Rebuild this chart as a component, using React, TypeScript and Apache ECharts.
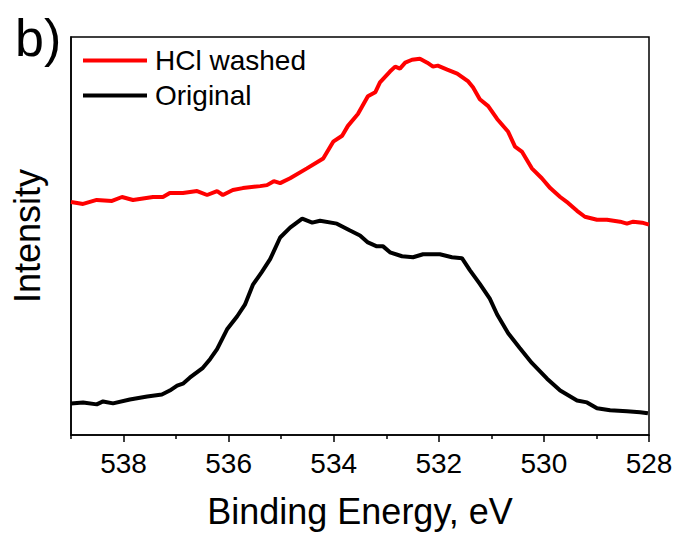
import React, { useEffect, useRef } from "react";
import * as echarts from "echarts";

const FONT = '"Liberation Sans", Arial, Helvetica, sans-serif';

const seriesNames = ["HCl washed", "Original"];
const seriesColors = ["#ff0000", "#000000"];

const washedEnergy = [
  539.0, 538.77, 538.51, 538.22, 538.03, 537.82, 537.44, 537.25, 537.12, 536.87,
  536.6, 536.41, 536.22, 536.11, 535.92, 535.73, 535.4, 535.27, 535.14, 535.02,
  534.83, 534.51, 534.2, 534.01, 533.84, 533.73, 533.54, 533.35, 533.21, 533.12,
  532.93, 532.83, 532.74, 532.64, 532.51, 532.36, 532.22, 532.11, 532.02, 531.84,
  531.65, 531.44, 531.35, 531.22, 531.06, 530.89, 530.68, 530.55, 530.42, 530.23,
  530.04, 529.88, 529.69, 529.54, 529.37, 529.22, 528.99, 528.8, 528.55, 528.42,
  528.3, 528.13, 528.0,
];
const washedIntensity = [
  236, 234, 238, 237, 241, 238, 241, 241, 245, 245,
  247, 243, 247, 243, 248, 250, 252, 253, 257, 255,
  260, 270, 280, 297, 303, 313, 325, 343, 347, 357,
  368, 373, 371, 377, 380, 381, 377, 373, 374, 370,
  366, 358, 352, 340, 333, 320, 307, 292, 287, 270,
  260, 250, 241, 235, 227, 221, 218, 218, 216, 214,
  216, 215, 213,
];

const originalEnergy = [
  539.0, 538.77, 538.51, 538.39, 538.2, 537.88, 537.55, 537.27, 537.12, 536.98,
  536.87, 536.74, 536.49, 536.35, 536.22, 536.03, 535.84, 535.69, 535.54, 535.37,
  535.21, 535.02, 534.83, 534.6, 534.41, 534.26, 533.94, 533.69, 533.5, 533.35,
  533.18, 533.06, 532.93, 532.7, 532.49, 532.3, 531.98, 531.75, 531.56, 531.41,
  531.22, 531.03, 530.89, 530.68, 530.46, 530.23, 529.94, 529.69, 529.37, 529.18,
  528.99, 528.74, 528.42, 528.17, 528.02,
];
const originalIntensity = [
  32, 33, 31, 34, 32, 36, 39, 41, 45, 50,
  52, 58, 68, 77, 87, 107, 120, 132, 152, 165,
  178, 200, 210, 219, 215, 217, 214, 207, 202, 195,
  191, 191, 185, 181, 180, 183, 183, 180, 179, 167,
  153, 138, 122, 103, 88, 73, 57, 45, 35, 33,
  27, 25, 24, 23, 22,
];

const majorTicks = [528, 530, 532, 534, 536, 538];
const minorTicks = [529, 531, 533, 535, 537, 539];

const xTitle = "Binding Energy, eV";
const yTitle = "Intensity";
const panelLabel = "b)";

function zip(xs: number[], ys: number[]) {
  return xs.map((x, i) => [x, ys[i]]);
}

export default function App() {
  const ref = useRef<HTMLDivElement>(null);

  useEffect(() => {
    if (!ref.current) return;
    const chart = echarts.init(ref.current, null, { renderer: "svg" });
    const baseX = {
      type: "value" as const,
      min: 528,
      max: 539,
      interval: 1,
      inverse: true,
      position: "bottom" as const,
      splitLine: { show: false },
    };
    chart.setOption({
      animation: false,
      backgroundColor: "#ffffff",
      grid: {
        left: 71,
        right: 27,
        top: 37,
        bottom: 94,
        show: true,
        borderColor: "#000",
        borderWidth: 1.5,
        backgroundColor: "transparent",
      },
      legend: {
        orient: "vertical",
        left: 78,
        top: 40,
        padding: 5,
        itemWidth: 64,
        itemHeight: 4,
        itemGap: 4,
        icon: "rect",
        data: seriesNames,
        textStyle: {
          fontFamily: FONT,
          fontSize: 28,
          color: "#000",
          lineHeight: 31,
          padding: [0, 0, 0, 3],
        },
      },
      xAxis: [
        {
          ...baseX,
          axisLine: { show: true, lineStyle: { color: "#000", width: 1.5 } },
          axisTick: {
            show: true,
            inside: false,
            length: 7,
            customValues: majorTicks,
            lineStyle: { color: "#000", width: 1.5 },
          },
          axisLabel: {
            show: true,
            customValues: majorTicks,
            margin: 14,
            fontFamily: FONT,
            fontSize: 28,
            color: "#000",
            formatter: (v: number) => (majorTicks.includes(v) ? String(v) : ""),
          },
          name: xTitle,
          nameLocation: "middle",
          nameGap: 58,
          nameTextStyle: { fontFamily: FONT, fontSize: 36, color: "#000" },
        },
        {
          ...baseX,
          axisLine: { show: false },
          axisTick: {
            show: true,
            inside: false,
            length: 4,
            customValues: minorTicks,
            lineStyle: { color: "#000", width: 1.5 },
          },
          axisLabel: { show: false },
        },
      ],
      yAxis: {
        type: "value",
        min: 0,
        max: 403,
        axisLine: { show: true, lineStyle: { color: "#000", width: 1.5 } },
        axisTick: { show: false },
        axisLabel: { show: false },
        splitLine: { show: false },
        name: yTitle,
        nameLocation: "middle",
        nameGap: 26,
        nameTextStyle: { fontFamily: FONT, fontSize: 36, color: "#000" },
      },
      graphic: [
        {
          type: "text",
          x: 15,
          y: 38,
          style: {
            text: panelLabel,
            fontFamily: FONT,
            fontSize: 52,
            fill: "#000",
            verticalAlign: "middle",
          },
        },
      ],
      series: [
        {
          name: seriesNames[0],
          type: "line",
          xAxisIndex: 0,
          data: zip(washedEnergy, washedIntensity),
          symbol: "none",
          color: seriesColors[0],
          lineStyle: { color: seriesColors[0], width: 4 },
        },
        {
          name: seriesNames[1],
          type: "line",
          xAxisIndex: 0,
          data: zip(originalEnergy, originalIntensity),
          symbol: "none",
          color: seriesColors[1],
          lineStyle: { color: seriesColors[1], width: 4 },
        },
      ],
    });
    return () => chart.dispose();
  }, []);

  return <div ref={ref} style={{ width: 676, height: 534, position: "absolute", left: 0, top: 0 }} />;
}
